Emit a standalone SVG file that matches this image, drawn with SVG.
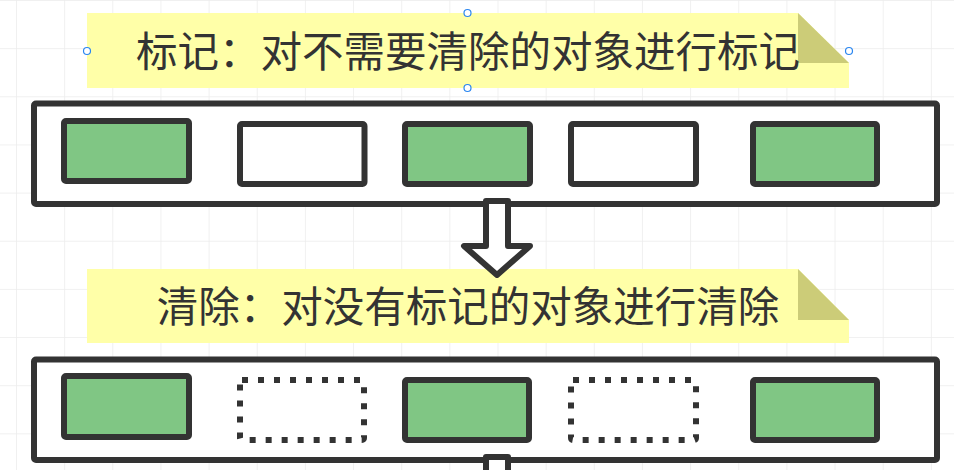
<svg xmlns="http://www.w3.org/2000/svg" width="954" height="470" viewBox="0 0 954 470">
  <defs>
    <pattern id="grid" x="16" y="0" width="48.15" height="48.15" patternUnits="userSpaceOnUse">
      <path d="M 0 0 L 0 48.15 M 0 0 L 48.15 0" fill="none" stroke="#ececec" stroke-width="1.5"/>
    </pattern>
    <style>
      .note { fill: #ffffa8; }
      .fold { fill: #cccc78; }
      .label { font-family: "Noto Sans CJK SC", "Noto Sans", sans-serif; font-size: 41.5px; fill: #333333; text-anchor: middle; }
      .frame { fill: #ffffff; stroke: #333333; stroke-width: 6; stroke-linejoin: round; }
      .obj { stroke: #333333; stroke-width: 6; stroke-linejoin: round; }
      .live { fill: #80c684; }
      .empty { fill: #ffffff; }
      .freed { fill: #ffffff; stroke: #333333; stroke-width: 6; stroke-dasharray: 6 10; stroke-linejoin: round; }
      .arrow { fill: #ffffff; stroke: #333333; stroke-width: 6; stroke-linejoin: round; }
      .handle { fill: #ffffff; stroke: #2a86f0; stroke-width: 1.2; }
    </style>
  </defs>

  <rect width="954" height="470" fill="#ffffff"/>
  <rect width="954" height="470" fill="url(#grid)"/>

  <!-- note: mark phase -->
  <g id="note-mark">
    <path class="note" d="M87 13 H798 L849 63 V88 H87 Z"/>
    <path class="fold" d="M798 13 L849 63 H798 Z"/>
    <text class="label" x="468" y="67">标记：对不需要清除的对象进行标记</text>
  </g>

  <!-- selection handles on the mark note -->
  <g id="selection">
    <circle class="handle" cx="467.5" cy="13" r="3.5"/>
    <circle class="handle" cx="87" cy="51" r="3.5"/>
    <circle class="handle" cx="849" cy="51" r="3.5"/>
    <circle class="handle" cx="467.5" cy="88" r="3.5"/>
  </g>

  <!-- heap after marking -->
  <g id="heap-marked">
    <rect class="frame" x="34" y="103.5" width="903" height="100.5" rx="2"/>
    <rect class="obj live" x="64" y="121" width="125" height="60" rx="2"/>
    <rect class="obj empty" x="240" y="124" width="124.5" height="60" rx="2"/>
    <rect class="obj live" x="405" y="124" width="125" height="60" rx="2"/>
    <rect class="obj empty" x="571" y="124" width="125" height="60" rx="2"/>
    <rect class="obj live" x="753" y="124" width="124" height="60" rx="2"/>
  </g>

  <!-- note: sweep phase -->
  <g id="note-sweep">
    <path class="note" d="M87 269 H798 L849 320 V343 H87 Z"/>
    <path class="fold" d="M798 269 L849 320 H798 Z"/>
    <text class="label" x="468" y="322">清除：对没有标记的对象进行清除</text>
  </g>

  <!-- heap after sweeping -->
  <g id="heap-swept">
    <rect class="frame" x="34" y="359.5" width="903" height="100.5" rx="2"/>
    <rect class="obj live" x="64" y="376" width="125" height="61" rx="2"/>
    <rect class="freed" x="240" y="380" width="124" height="60" rx="2"/>
    <rect class="obj live" x="405" y="380" width="124" height="60" rx="2"/>
    <rect class="freed" x="571" y="380" width="125" height="60" rx="2"/>
    <rect class="obj live" x="753" y="380" width="124" height="60" rx="2"/>
  </g>

  <!-- block arrows between phases, drawn over frames and notes -->
  <g id="connectors">
    <path class="arrow" d="M486 201 H508 V246 H530 L497 275 L464 246 H486 Z"/>
    <path class="arrow" d="M486 457 H508 V502 H530 L497 531 L464 502 H486 Z"/>
  </g>
</svg>
